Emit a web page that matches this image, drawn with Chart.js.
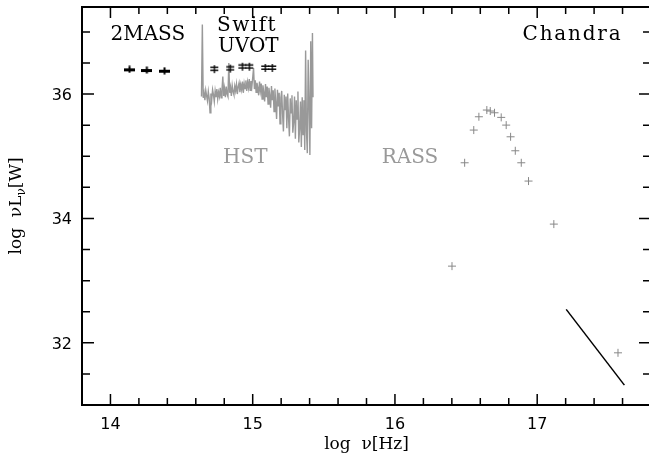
<!DOCTYPE html>
<html><head><meta charset="utf-8">
<script src="https://cdn.jsdelivr.net/npm/chart.js@4/dist/chart.umd.min.js"></script>
<style>html,body{margin:0;padding:0;background:#fff;overflow:hidden;width:649px;height:462px}canvas{display:block}</style>
</head><body><canvas id="c" width="660" height="462"></canvas>
<script>
// ---- data (log nu [Hz], log nuL_nu [W]) ----
const massLogNu = [14.134, 14.256, 14.380];
const massLogL  = [36.397, 36.386, 36.375];
const uvotLogNu = [14.730, 14.842, 14.927, 14.976, 15.088, 15.137];
const uvotLogL  = [36.40, 36.41, 36.44, 36.44, 36.42, 36.42];
const rassLogNu = [16.401, 16.490, 16.554, 16.590, 16.646, 16.670, 16.700, 16.747, 16.782, 16.813, 16.846, 16.888, 16.939, 17.117, 17.568];
const rassLogL  = [33.233, 34.895, 35.421, 35.635, 35.743, 35.727, 35.699, 35.625, 35.501, 35.313, 35.088, 34.895, 34.601, 33.909, 31.839];
const chandraLogNu = [17.204, 17.613];
const chandraLogL  = [32.537, 31.319];
const hstLogNu = [
 14.640,14.646,14.652,14.658,14.664,14.670,14.676,14.682,14.688,14.694,
 14.700,14.706,14.712,14.718,14.724,14.730,14.736,14.742,14.748,14.754,
 14.760,14.766,14.772,14.778,14.784,14.790,14.796,14.802,14.808,14.814,
 14.820,14.826,14.832,14.838,14.844,14.850,14.856,14.862,14.868,14.874,
 14.880,14.886,14.892,14.898,14.904,14.910,14.916,14.922,14.928,14.934,
 14.940,14.946,14.952,14.958,14.964,14.970,14.976,14.982,14.988,14.994,
 15.000,15.006,15.012,15.018,15.024,15.030,15.036,15.042,15.048,15.054,
 15.060,15.066,15.072,15.078,15.084,15.090,15.096,15.102,15.108,15.114,
 15.120,15.126,15.132,15.138,15.144,15.150,15.156,15.162,15.168,15.174,
 15.180,15.186,15.192,15.198,15.204,15.210,15.216,15.222,15.228,15.234,
 15.240,15.246,15.252,15.258,15.264,15.270,15.276,15.282,15.288,15.294,
 15.300,15.306,15.312,15.318,15.324,15.330,15.336,15.342,15.348,15.354,
 15.360,15.366,15.372,15.378,15.384,15.390,15.396,15.402,15.408,15.414,
 15.420,15.424];
const hstLogL = [
 35.96,37.12,35.94,36.02,35.90,36.06,35.97,35.89,36.04,35.93,
 35.70,36.01,35.91,36.07,35.99,35.88,36.05,35.95,36.08,35.92,
 36.03,35.96,36.10,35.94,36.06,36.28,35.97,36.09,35.95,36.12,
 36.00,35.96,36.50,36.02,36.11,35.97,36.14,36.04,35.99,36.13,
 36.05,36.16,36.00,36.12,36.18,36.03,36.15,36.07,36.20,36.02,
 36.17,36.09,36.22,36.05,36.19,36.10,36.24,36.06,36.21,36.12,
 36.26,36.42,36.08,36.22,36.03,36.18,36.10,35.98,36.20,36.05,
 36.17,35.92,36.14,36.02,35.88,36.16,35.95,36.12,35.84,36.10,
 35.98,35.78,36.13,35.90,36.06,35.72,36.09,35.86,35.60,36.07,
 35.80,36.02,35.52,35.94,36.05,35.68,35.40,35.99,35.75,35.96,
 35.45,36.01,35.62,35.32,35.93,35.70,35.98,35.38,35.55,35.96,
 35.28,35.90,35.60,36.04,35.22,35.45,35.88,35.15,35.95,35.35,
 35.90,35.10,36.70,35.40,35.05,36.55,35.85,35.02,36.85,35.45,
 36.98,35.95];
const xTickLabels = [14, 15, 16, 17];
const yTickLabels = [32, 34, 36];

const pts = (xs, ys) => xs.map((v, i) => ({x: v, y: ys[i]}));

function makeMarker(w, h, draw) {
  const c = document.createElement('canvas'); c.width = w; c.height = h;
  draw(c.getContext('2d')); return c;
}
const massMarker = makeMarker(11, 8, g => { g.fillStyle = '#000'; g.fillRect(0, 3, 11, 3); g.fillRect(4.5, 0.5, 2, 7); });
const uvotMarker = makeMarker(10, 10, g => { g.fillStyle = '#000'; g.fillRect(4.5, 1, 1.3, 8); g.fillRect(1, 2.5, 8, 1.4); g.fillRect(1, 5.5, 8, 1.4); });

const frame = {
  id: 'frame',
  afterDraw(chart) {
    const {ctx, chartArea: a, scales: {x, y}} = chart;
    ctx.save();
    ctx.strokeStyle = '#000';
    ctx.lineWidth = 2;
    ctx.strokeRect(a.left, a.top, a.right - a.left, a.bottom - a.top);
    ctx.lineWidth = 1.5;
    ctx.beginPath();
    for (let k = 70; k <= 89; k++) {
      const v = k / 5; const px = x.getPixelForValue(v);
      if (px <= a.left + 1 || px >= a.right - 1) continue;
      const L = (k % 5 === 0) ? 11 : 7;
      ctx.moveTo(px, a.bottom); ctx.lineTo(px, a.bottom - L);
      ctx.moveTo(px, a.top); ctx.lineTo(px, a.top + L);
    }
    for (let k = 62; k <= 75; k++) {
      const v = k / 2; const py = y.getPixelForValue(v);
      if (py <= a.top + 1 || py >= a.bottom - 1) continue;
      const L = (v % 2 === 0) ? 12 : 8;
      ctx.moveTo(a.left, py); ctx.lineTo(a.left + L, py);
      ctx.moveTo(a.right, py); ctx.lineTo(a.right - L, py);
    }
    ctx.stroke();
    // tick labels
    ctx.fillStyle = '#000';
    ctx.font = '16px "DejaVu Sans"';
    ctx.textBaseline = 'alphabetic';
    ctx.textAlign = 'center';
    xTickLabels.forEach(v => ctx.fillText(String(v), x.getPixelForValue(v), a.bottom + 24));
    ctx.textAlign = 'right';
    yTickLabels.forEach(v => ctx.fillText(String(v), a.left - 10, y.getPixelForValue(v) + 6));
    // axis titles
    ctx.font = '17px "DejaVu Serif"';
    ctx.textAlign = 'center';
    ctx.fillText('log  \u03bd[Hz]', (a.left + a.right) / 2, a.bottom + 44);
    ctx.save();
    ctx.translate(a.left - 61, (a.top + a.bottom) / 2);
    ctx.rotate(-Math.PI / 2);
    const big = '17px "DejaVu Serif"', small = '12px "DejaVu Serif"';
    const parts = [['log  \u03bdL', big, 0], ['\u03bd', small, 4], ['[W]', big, 0]];
    let total = 0;
    parts.forEach(p => { ctx.font = p[1]; total += ctx.measureText(p[0]).width; });
    let cx = -total / 2;
    ctx.textAlign = 'left';
    parts.forEach(p => { ctx.font = p[1]; ctx.fillText(p[0], cx, p[2]); cx += ctx.measureText(p[0]).width; });
    ctx.restore();
    // annotations
    ctx.textAlign = 'left';
    ctx.font = '20px "DejaVu Serif"';
    const note = (t, xv, yv, col, sp) => {
      ctx.fillStyle = col; ctx.letterSpacing = (sp || 0) + 'px';
      ctx.fillText(t, x.getPixelForValue(xv), y.getPixelForValue(yv));
      ctx.letterSpacing = '0px';
    };
    note('2MASS', 14.0, 36.87, '#000', 0);
    note('Swift', 14.749, 37.01, '#000', 1.5);
    note('UVOT', 14.756, 36.68, '#000', 0);
    note('Chandra', 16.897, 36.87, '#000', 1.8);
    note('HST', 14.792, 34.89, '#999', 0);
    note('RASS', 15.907, 34.89, '#999', 0);
    ctx.restore();
  }
};

new Chart(document.getElementById('c'), {
  type: 'scatter',
  data: {
    datasets: [
      {label: 'HST', data: pts(hstLogNu, hstLogL), showLine: true, borderColor: '#999', borderWidth: 1.4, pointRadius: 0, tension: 0, order: 5},
      {label: '2MASS', data: pts(massLogNu, massLogL), pointStyle: massMarker, order: 1},
      {label: 'UVOT', data: pts(uvotLogNu, uvotLogL), pointStyle: uvotMarker, order: 1},
      {label: 'RASS', data: pts(rassLogNu, rassLogL), pointStyle: 'cross', radius: 4, borderWidth: 1, borderColor: '#888', order: 2},
      {label: 'Chandra', data: pts(chandraLogNu, chandraLogL), showLine: true, borderColor: '#000', borderWidth: 1.5, pointRadius: 0, order: 2}
    ]
  },
  options: {
    responsive: false, animation: false, devicePixelRatio: 1,
    layout: {padding: {left: 82, top: 7, right: 9, bottom: 57}},
    plugins: {legend: {display: false}, tooltip: {enabled: false}},
    scales: {
      x: {type: 'linear', min: 13.8, max: 17.8, display: false},
      y: {type: 'linear', min: 31.0, max: 37.4, display: false}
    }
  },
  plugins: [frame]
});
</script>
</body></html>
